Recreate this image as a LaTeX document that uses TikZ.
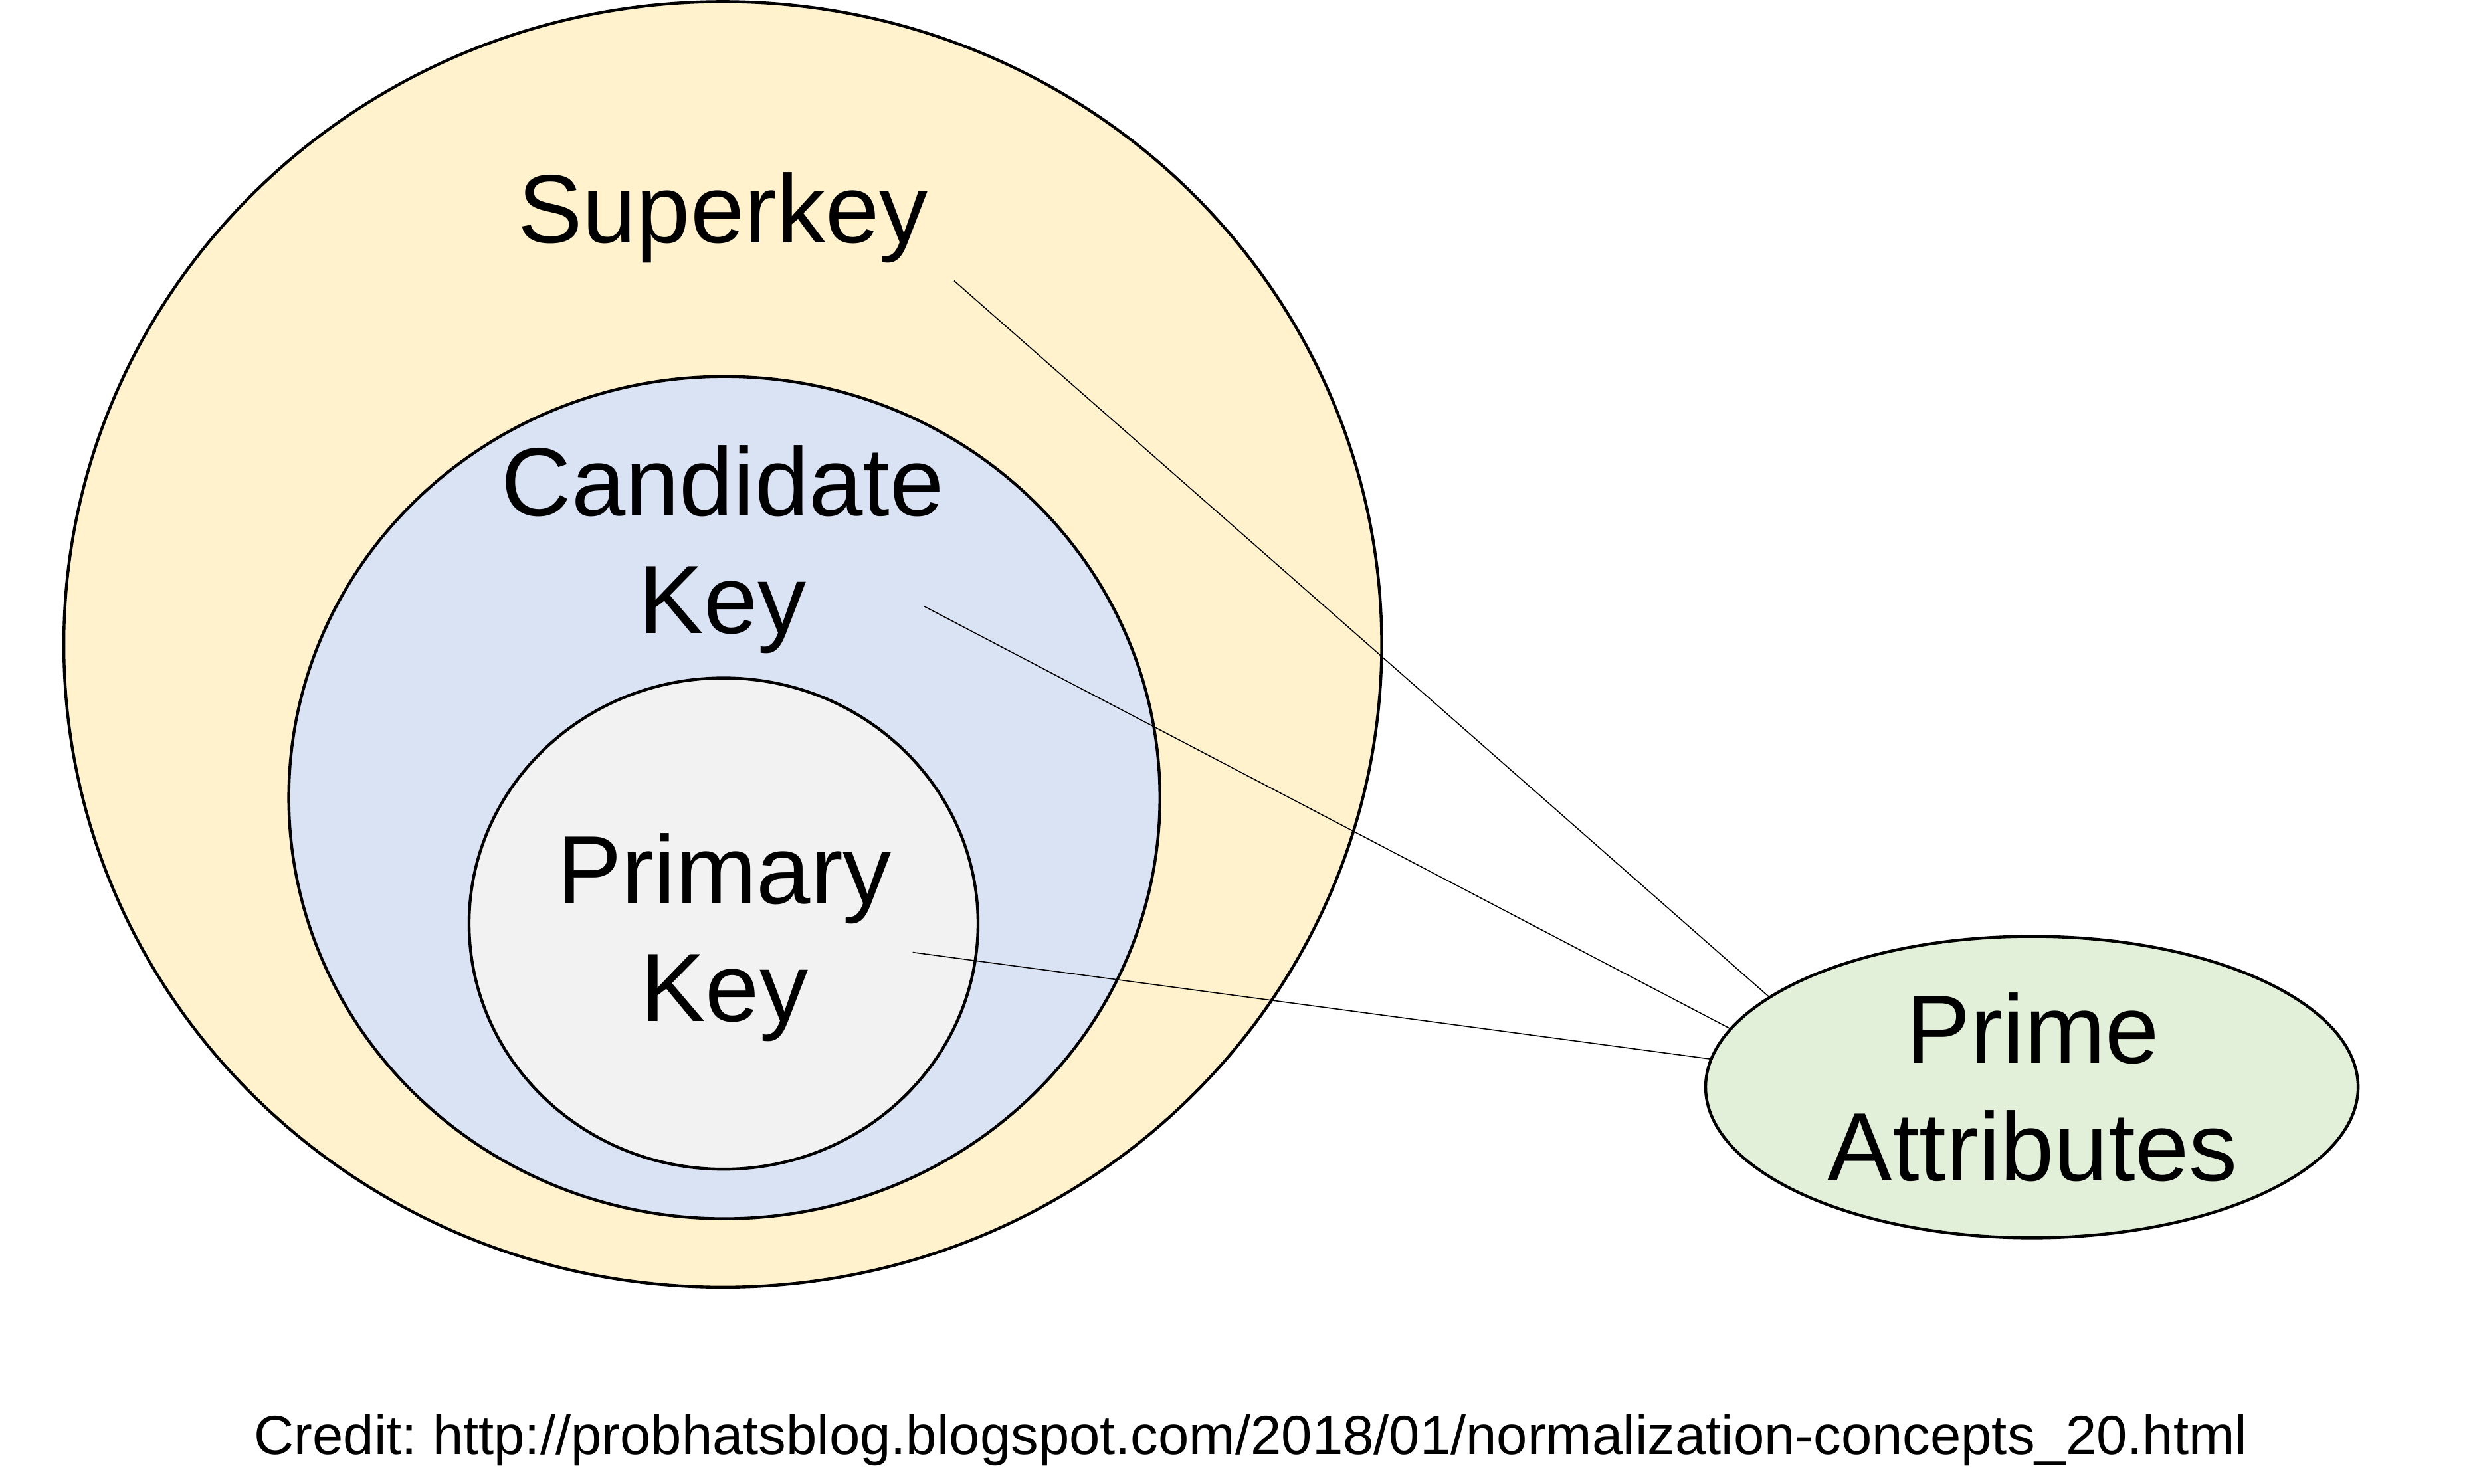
\documentclass[tikz,border=0pt]{standalone}
\usepackage{fontspec}
\setmainfont{Liberation Sans}
\usetikzlibrary{shapes.geometric}
\frenchspacing
\definecolor{superfill}{HTML}{FFF2CC}
\definecolor{candfill}{HTML}{DAE3F3}
\definecolor{primfill}{HTML}{F2F2F2}
\definecolor{primefill}{HTML}{E2F0D9}
\newcommand{\uu}{0.024013cm}
\tikzset{
  setellipse/.style={ellipse, draw=black, line width=1.25pt, inner sep=0pt},
  bigtext/.style={font=\fontsize{41.6}{50.4}\selectfont, align=center, inner sep=0pt},
  credittext/.style={font=\fontsize{23.7}{28}\selectfont, inner sep=0pt},
  link/.style={draw=black, line width=0.45pt}
}
\begin{document}
\begin{tikzpicture}[x=0.024013cm, y=-0.024013cm]
\useasboundingbox (0,0) rectangle (1550,930);
\node[setellipse, fill=superfill, minimum width=826*\uu, minimum height=806*\uu] (super) at (453,404) {};
\node[setellipse, fill=candfill, minimum width=546*\uu, minimum height=528*\uu] (cand) at (454,500) {};
\node[setellipse, fill=primfill, minimum width=319*\uu, minimum height=308*\uu] (prim) at (453.5,579) {};
\node[setellipse, fill=primefill, minimum width=409*\uu, minimum height=189*\uu] (prime) at (1273.5,681.5) {};
\node[bigtext] (tsuper) at (453,136.4) {Superkey};
\node[bigtext] (tcand) at (453,344.5) {Candidate\\Key};
\node[bigtext] (tprim) at (454,587.5) {Primary\\Key};
\node[bigtext] (tprime) at (1274,681.6) {Prime\\Attributes};
\node[credittext] (credit) at (784,903) {Credit: http://probhatsblog.blogspot.com/2018/01/normalization-concepts\_20.html};
\coordinate (s1) at (598,176);
\coordinate (s2) at (579,380);
\coordinate (s3) at (572,597);
\draw[link] (s1) -- (prime.161.3);
\draw[link] (s2) -- (prime.169.2);
\draw[link] (s3) -- (prime.175);
\end{tikzpicture}
\end{document}
